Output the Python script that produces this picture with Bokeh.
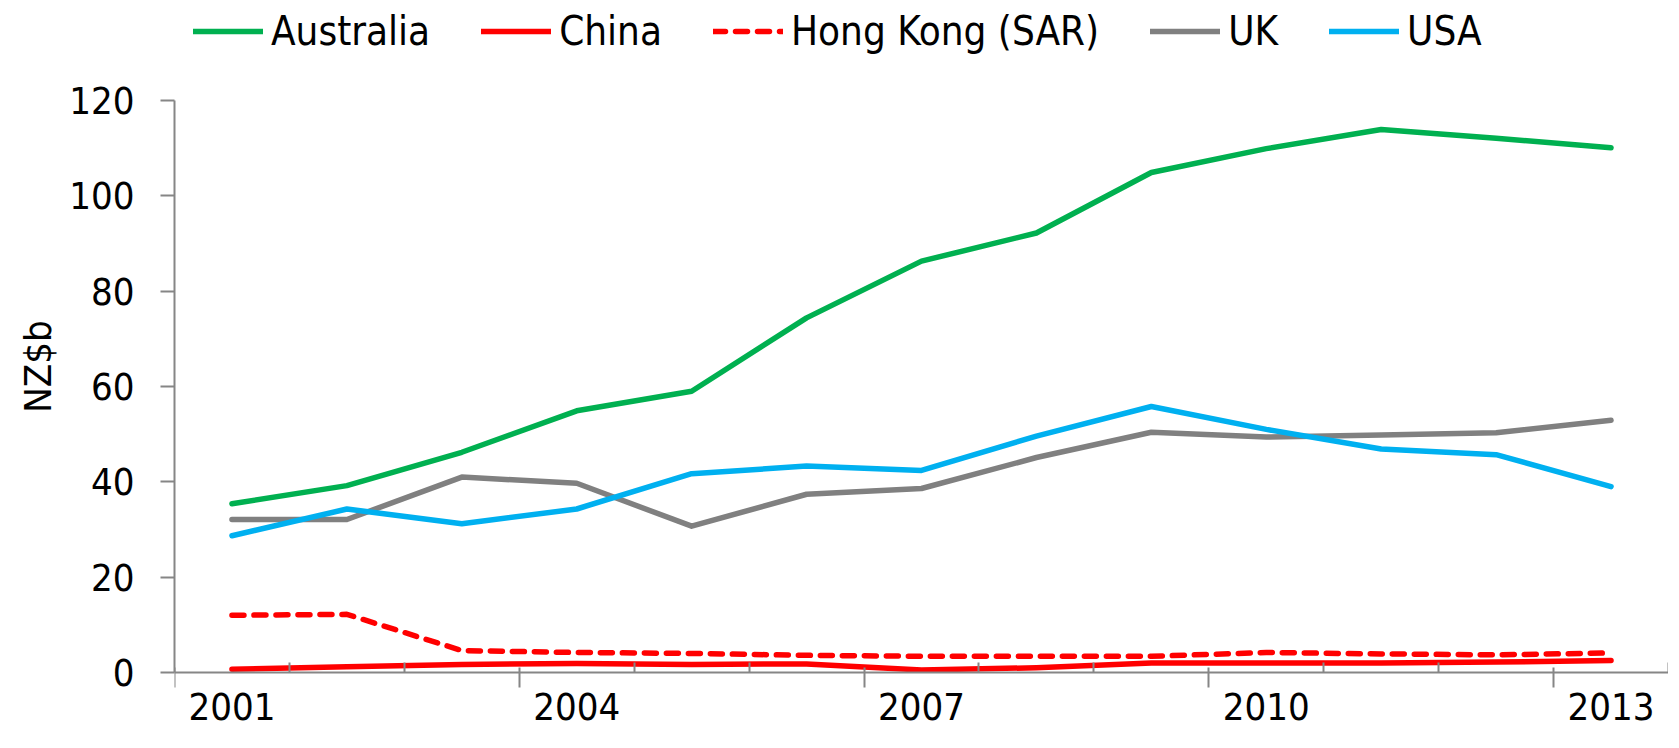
from bokeh.plotting import figure
from bokeh.models import (Range1d, LinearAxis, FixedTicker, Legend, LegendItem,
                          CustomJSTickFormatter)
from bokeh.embed import file_html
from bokeh.resources import INLINE

years = [str(y) for y in range(2001, 2014)]
australia = [35.4, 39.2, 46.2, 54.9, 59.0, 74.4, 86.3, 92.2, 104.9, 109.9, 113.9, 112.1, 110.1]
china = [0.7, 1.2, 1.7, 1.9, 1.7, 1.8, 0.5, 1.0, 2.0, 2.0, 2.0, 2.2, 2.5]
hong_kong = [12.0, 12.2, 4.6, 4.2, 4.0, 3.6, 3.4, 3.4, 3.4, 4.2, 3.9, 3.7, 4.1]
uk = [32.1, 32.1, 41.0, 39.7, 30.7, 37.4, 38.6, 45.1, 50.4, 49.4, 49.8, 50.3, 52.9]
usa = [28.7, 34.3, 31.2, 34.3, 41.7, 43.3, 42.4, 49.6, 55.8, 51.0, 46.9, 45.7, 39.0]
y_ticks = [0, 20, 40, 60, 80, 100, 120]
labelled_years = ["2001", "2004", "2007", "2010", "2013"]

FONT = "DejaVu Sans Condensed"
FS = "38px"
AXIS_COLOR = "#868686"

W, H = 1668, 732
BORDER_LEFT = 174
PLOT_TOP, PLOT_BOTTOM = 100, 672      # pixel rows of the values 120 and 0
y_max = y_ticks[-1]
px_per_unit = (PLOT_BOTTOM - PLOT_TOP) / y_max
y_view_bottom = -(H - PLOT_BOTTOM) / px_per_unit
y_view_top = y_max + PLOT_TOP / px_per_unit

n = len(years)
# each year occupies one slot on the x axis; points sit at slot centres
slot_centres = [i + 0.5 for i in range(n)]

p = figure(width=W, height=H,
           x_range=Range1d(0, n), y_range=Range1d(y_view_bottom, y_view_top),
           x_axis_location=None, y_axis_location=None,
           output_backend="svg", toolbar_location=None,
           min_border_left=BORDER_LEFT, min_border_right=0, min_border_top=0,
           min_border_bottom=0)
p.outline_line_color = None
p.background_fill_color = "white"
p.border_fill_color = "white"
p.grid.visible = False

bounds = list(range(n + 1))
tick_axis = LinearAxis(ticker=FixedTicker(ticks=[b for b in bounds if b % 3 == 0 and b < n],
                                          minor_ticks=[b for b in bounds if b % 3 != 0 or b == n]),
                       formatter=CustomJSTickFormatter(code="return ''"),
                       fixed_location=0,
                       major_tick_in=5, major_tick_out=15, minor_tick_in=10, minor_tick_out=0,
                       axis_line_color=AXIS_COLOR, major_tick_line_color=AXIS_COLOR,
                       minor_tick_line_color=AXIS_COLOR, axis_line_width=2,
                       major_tick_line_width=2, minor_tick_line_width=2,
                       major_label_text_font_size="1px", major_label_standoff=0)
p.add_layout(tick_axis, "below")

label_ticks = [slot_centres[years.index(y)] for y in labelled_years]
label_axis = LinearAxis(ticker=FixedTicker(ticks=label_ticks, minor_ticks=[]),
                        formatter=CustomJSTickFormatter(args=dict(labels=years),
                                                        code="return labels[Math.floor(tick)]"),
                        fixed_location=0,
                        major_tick_in=0, major_tick_out=0, axis_line_color=None,
                        major_label_standoff=20,
                        major_label_text_font=FONT, major_label_text_font_size=FS,
                        major_label_text_color="black")
p.add_layout(label_axis, "below")

yaxis = LinearAxis(ticker=FixedTicker(ticks=y_ticks, minor_ticks=[]), bounds=(0, y_max),
                   major_tick_in=0, major_tick_out=14,
                   axis_line_color=AXIS_COLOR, major_tick_line_color=AXIS_COLOR,
                   axis_line_width=2, major_tick_line_width=2,
                   major_label_standoff=26,
                   major_label_text_font=FONT, major_label_text_font_size=FS,
                   major_label_text_color="black",
                   axis_label="NZ$b", axis_label_text_font=FONT, axis_label_text_font_size="38px",
                   axis_label_text_font_style="normal", axis_label_text_color="black",
                   axis_label_standoff=6)
p.add_layout(yaxis, "left")

series = [
    ("Australia", australia, "#00B050", "solid"),
    ("China", china, "#FF0000", "solid"),
    ("Hong Kong (SAR)", hong_kong, "#FF0000", "12 10"),
    ("UK", uk, "#808080", "solid"),
    ("USA", usa, "#00B0F0", "solid"),
]
items = []
for name, vals, color, dash in series:
    r = p.line(slot_centres, vals, line_color=color, line_width=5.5, line_dash=dash,
               line_cap="round", line_join="round")
    items.append(LegendItem(label=name, renderers=[r]))

legend = Legend(items=items, orientation="horizontal", location=(19, 678),
                label_text_font=FONT, label_text_font_size="40px", label_text_color="black",
                glyph_width=70, glyph_height=20, label_standoff=8, spacing=51,
                padding=0, margin=0, border_line_color=None, background_fill_alpha=0)
p.add_layout(legend, "center")

open("out.html", "w").write(file_html(p, INLINE))
